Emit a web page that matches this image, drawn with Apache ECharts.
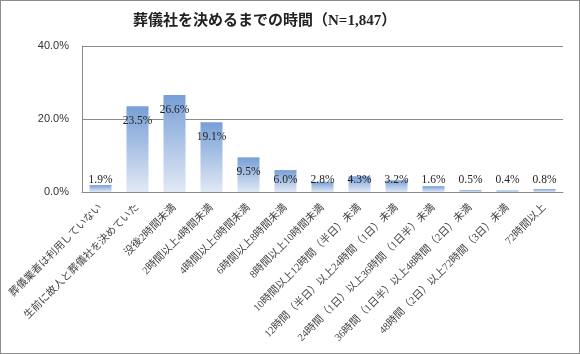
<!DOCTYPE html>
<html><head><meta charset="utf-8">
<script src="https://cdn.jsdelivr.net/npm/echarts@6/dist/echarts.min.js"></script>
<style>
html,body{margin:0;padding:0;background:#fff;}
#c{width:580px;height:354px;box-sizing:border-box;border:1px solid #8c8c8c;}
</style></head>
<body><div id="c"></div>
<script>
const titleText = '葬儀社を決めるまでの時間（N=1,847）';
const categories = [
  '葬儀業者は利用していない',
  '生前に故人と葬儀社を決めていた',
  '没後2時間未満',
  '2時間以上4時間未満',
  '4時間以上6時間未満',
  '6時間以上8時間未満',
  '8時間以上10時間未満',
  '10時間以上12時間（半日）未満',
  '12時間（半日）以上24時間（1日）未満',
  '24時間（1日）以上36時間（1日半）未満',
  '36時間（1日半）以上48時間（2日）未満',
  '48時間（2日）以上72時間（3日）未満',
  '72時間以上'
];
const values = [1.9, 23.5, 26.6, 19.1, 9.5, 6.0, 2.8, 4.3, 3.2, 1.6, 0.5, 0.4, 0.8];
const yTicks = [0, 20, 40];

const serif = '"Liberation Serif","Noto Sans CJK JP",serif';
const data = values.map(v => ({
  value: v,
  label: v > 7 ? {position: 'insideTop', distance: 9} : {position: 'insideBottom', distance: 6}
}));

const chart = echarts.init(document.getElementById('c'), null, {renderer: 'canvas'});
chart.setOption({
  animation: false,
  title: {
    text: titleText, left: 127, top: 8,
    textStyle: {fontFamily: serif, fontSize: 15, fontWeight: 'bold', color: '#222'}
  },
  grid: {left: 81, right: 16, top: 45, bottom: 161, containLabel: false},
  xAxis: {
    type: 'category', data: categories,
    axisLine: {show: true, lineStyle: {color: '#8c8c8c'}},
    axisTick: {show: false},
    axisLabel: {rotate: 45, interval: 0, margin: 14, fontFamily: serif, fontSize: 10.5, color: '#444'}
  },
  yAxis: {
    type: 'value', min: yTicks[0], max: yTicks[yTicks.length - 1], interval: 20,
    axisLine: {show: true, lineStyle: {color: '#8c8c8c'}},
    axisTick: {show: false},
    splitLine: {lineStyle: {color: '#8c8c8c'}},
    axisLabel: {margin: 13, fontFamily: 'Liberation Sans, Arial, sans-serif', fontSize: 11, color: '#333',
      formatter: v => v.toFixed(1) + '%'}
  },
  series: [{
    type: 'bar', data: data, barWidth: 22,
    itemStyle: {
      color: new echarts.graphic.LinearGradient(0, 0, 0, 1, [
        {offset: 0, color: '#779fd6'}, {offset: 1, color: '#e1e9f5'}
      ], false)
    },
    label: {show: true, fontFamily: serif, fontSize: 11.5, color: '#222',
      formatter: p => p.value.toFixed(1) + '%'}
  }]
});
</script></body></html>
